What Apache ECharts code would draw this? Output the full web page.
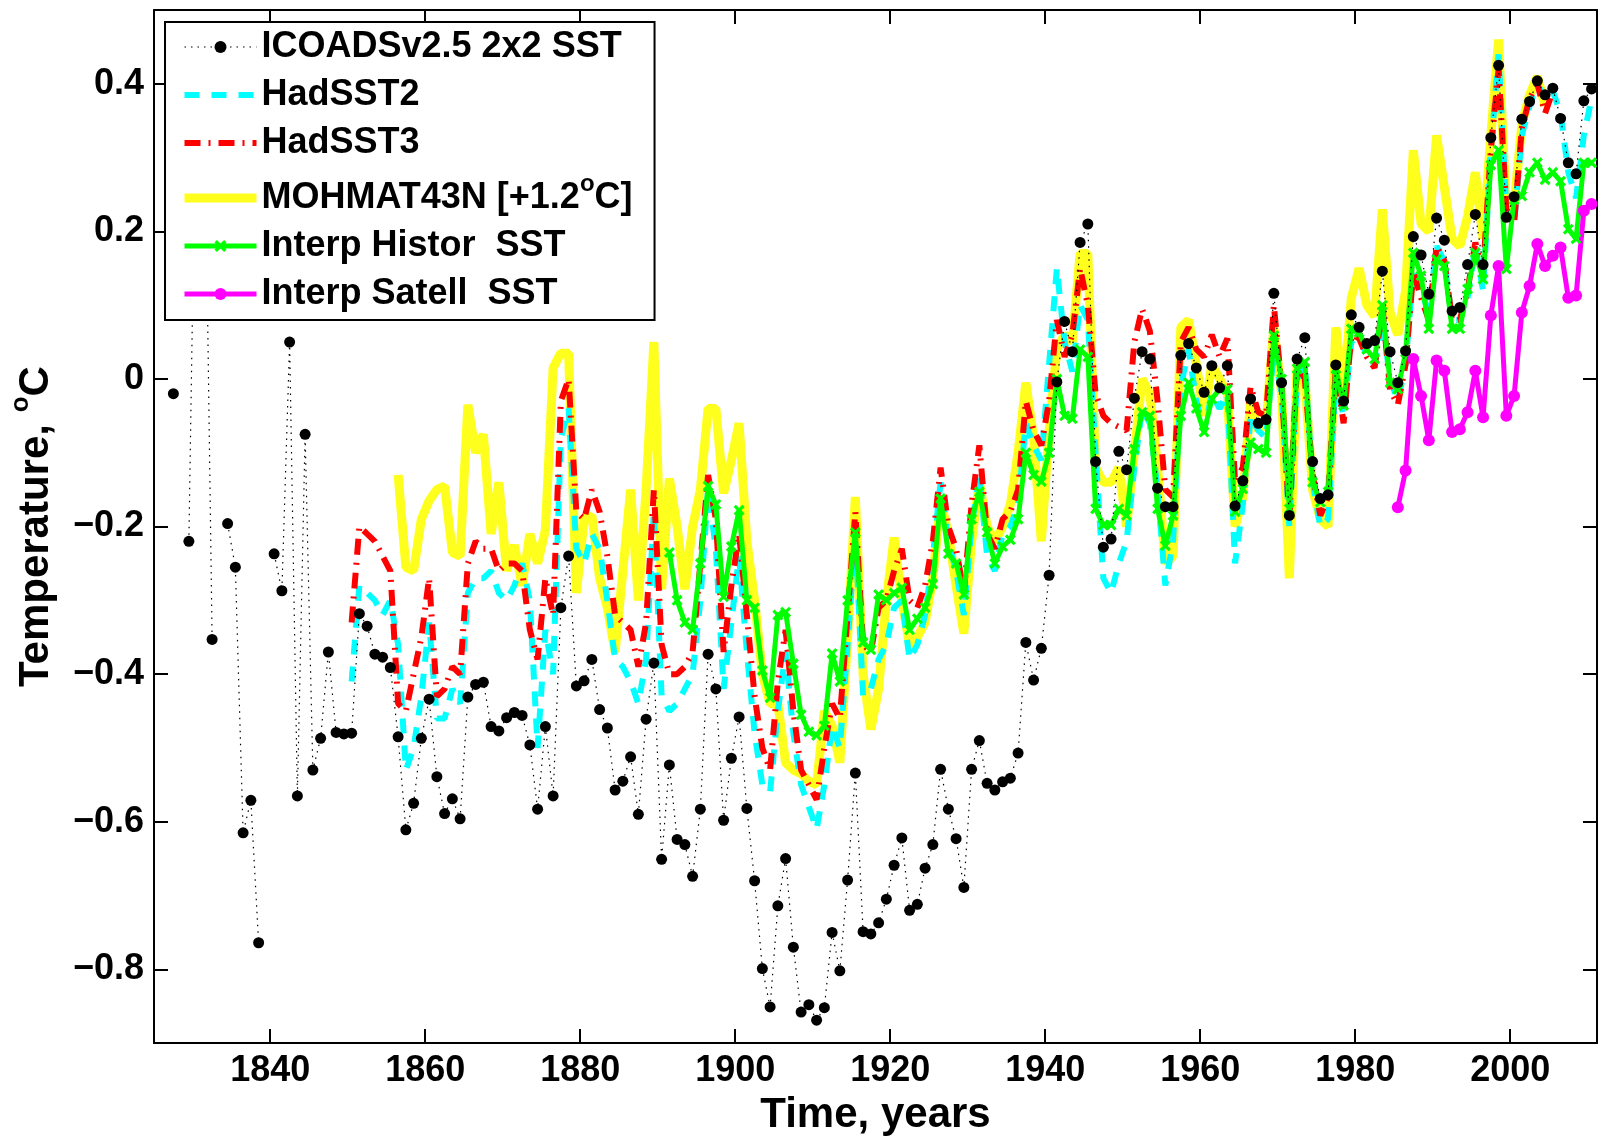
<!DOCTYPE html>
<html>
<head>
<meta charset="utf-8">
<script src="https://cdn.jsdelivr.net/npm/echarts@6.0.0/dist/echarts.min.js"></script>
<style>
html, body { margin: 0; padding: 0; background: #fff; }
#main { width: 1607px; height: 1141px; }
</style>
</head>
<body>
<div id="main"></div>
<script>
// tick positions
const yearTicks = [1840, 1860, 1880, 1900, 1920, 1940, 1960, 1980, 2000];
const tempTicks = [-0.8, -0.6, -0.4, -0.2, 0, 0.2, 0.4];

// ICOADSv2.5 2x2 SST, annual means from 1827 (null = no data)
const icoadsStart = 1827;
const icoads = [
  -0.02, null, -0.22,
  0.45, 0.40, -0.353, null, -0.196, -0.255, -0.615, -0.571, -0.764, null,
  -0.237, -0.287, 0.05, -0.565, -0.075, -0.53, -0.487, -0.37, -0.479, -0.481,
  -0.48, -0.318, -0.335, -0.373, -0.377, -0.391, -0.485, -0.611, -0.575, -0.487,
  -0.434, -0.539, -0.589, -0.569, -0.596, -0.431, -0.414, -0.411, -0.471, -0.477,
  -0.459, -0.452, -0.456, -0.496, -0.583, -0.471, -0.565, -0.31, -0.24, -0.416,
  -0.409, -0.38, -0.448, -0.473, -0.557, -0.545, -0.512, -0.59, -0.461, -0.385,
  -0.651, -0.523, -0.624, -0.631, -0.674, -0.583, -0.373, -0.42, -0.598, -0.514,
  -0.458, -0.582, -0.68, -0.799, -0.851, -0.714, -0.65, -0.77, -0.858, -0.848,
  -0.869, -0.852, -0.75, -0.802, -0.679, -0.534, -0.749, -0.752, -0.737, -0.705,
  -0.659, -0.622, -0.72, -0.712, -0.663, -0.631, -0.529, -0.583, -0.623, -0.689,
  -0.529, -0.49, -0.548, -0.557, -0.546, -0.541, -0.507, -0.357, -0.408, -0.365,
  -0.266, -0.004, 0.078, 0.037, 0.185, 0.21, -0.112, -0.228, -0.217, -0.098,
  -0.123, -0.026, 0.037, 0.027, -0.148, -0.173, -0.173, 0.032, 0.048, 0.015,
  -0.018, 0.018, -0.012, 0.018, -0.172, -0.138, -0.027, -0.06, -0.055, 0.116,
  -0.005, -0.185, 0.027, 0.056, -0.112, -0.162, -0.157, 0.019, -0.03, 0.087,
  0.07, 0.048, 0.052, 0.146, 0.037, -0.005, 0.038, 0.193, 0.168, 0.115,
  0.218, 0.188, 0.092, 0.097, 0.155, 0.223, 0.155, 0.327, 0.425, 0.219,
  0.247, 0.352, 0.376, 0.404, 0.385, 0.394, 0.353, 0.293, 0.278, 0.377,
  0.393
];

// HadSST2 from 1850
const hadsst2Start = 1850;
const hadsst2 = [
  -0.41, -0.28, -0.29, -0.30, -0.32, -0.30, -0.36, -0.53, -0.50, -0.43,
  -0.33, -0.46, -0.46, -0.42, -0.44, -0.29, -0.27, -0.27, -0.26, -0.29,
  -0.30, -0.28, -0.25, -0.30, -0.50, -0.34, -0.40, -0.08, -0.04, -0.23,
  -0.25, -0.21, -0.23, -0.30, -0.38, -0.39, -0.41, -0.44, -0.38, -0.18,
  -0.43, -0.45, -0.44, -0.42, -0.40, -0.30, -0.15, -0.23, -0.42, -0.33,
  -0.24, -0.37, -0.48, -0.55, -0.56, -0.45, -0.37, -0.48, -0.55, -0.58,
  -0.61, -0.55, -0.47, -0.50, -0.36, -0.21, -0.43, -0.42, -0.38, -0.36,
  -0.31, -0.30, -0.38, -0.36, -0.32, -0.24, -0.14, -0.22, -0.26, -0.32,
  -0.20, -0.13, -0.24, -0.26, -0.21, -0.20, -0.17, -0.06, -0.09, -0.11,
  0.02, 0.15, 0.05, 0.01, 0.10, 0.08, -0.10, -0.27, -0.29, -0.25,
  -0.22, -0.12, -0.04, -0.06, -0.15, -0.28, -0.22, -0.01, 0.04, -0.03,
  -0.07, -0.02, -0.04, -0.02, -0.25, -0.17, -0.05, -0.07, -0.08, 0.04,
  -0.02, -0.20, 0.00, 0.02, -0.14, -0.20, -0.19, 0.00, -0.05, 0.05,
  0.06, 0.03, 0.02, 0.08, 0.00, -0.03, 0.02, 0.15, 0.12, 0.09,
  0.18, 0.16, 0.08, 0.08, 0.11, 0.18, 0.12, 0.31, 0.44, 0.23,
  0.21, 0.33, 0.37, 0.40, 0.38, 0.39, 0.36, 0.28, 0.245, 0.33,
  0.38
];

// HadSST3 from 1850
const hadsst3Start = 1850;
const hadsst3 = [
  -0.33, -0.20, -0.21, -0.22, -0.24, -0.26, -0.44, -0.45, -0.40, -0.35,
  -0.27, -0.43, -0.42, -0.39, -0.40, -0.25, -0.22, -0.23, -0.23, -0.26,
  -0.25, -0.25, -0.26, -0.34, -0.38, -0.27, -0.32, -0.03, 0.00, -0.18,
  -0.19, -0.15, -0.18, -0.24, -0.32, -0.33, -0.34, -0.39, -0.33, -0.15,
  -0.36, -0.40, -0.40, -0.39, -0.37, -0.25, -0.13, -0.19, -0.37, -0.28,
  -0.21, -0.32, -0.43, -0.50, -0.53, -0.41, -0.34, -0.45, -0.53, -0.55,
  -0.57, -0.50, -0.44, -0.46, -0.32, -0.18, -0.36, -0.37, -0.31, -0.30,
  -0.26, -0.23, -0.30, -0.31, -0.28, -0.22, -0.12, -0.20, -0.23, -0.29,
  -0.17, -0.09, -0.21, -0.23, -0.19, -0.18, -0.15, -0.03, -0.07, -0.09,
  -0.03, 0.08, 0.03, 0.06, 0.15, 0.10, -0.02, -0.05, -0.06, -0.065,
  -0.07, 0.05, 0.095, 0.065, -0.03, -0.15, -0.16, 0.05, 0.07, 0.04,
  0.03, 0.06, 0.03, 0.055, -0.14, -0.12, -0.01, -0.045, -0.05, 0.10,
  -0.01, -0.19, 0.02, 0.00, -0.13, -0.185, -0.16, 0.015, -0.06, 0.06,
  0.055, 0.03, 0.015, 0.10, -0.015, -0.035, 0.02, 0.145, 0.11, 0.08,
  0.18, 0.16, 0.08, 0.08, 0.12, 0.185, 0.145, 0.31, 0.42, 0.23,
  0.21, 0.34, 0.38, 0.40, 0.36, 0.39
];

// MOHMAT43N (+1.2 C) from 1856
const mohmatStart = 1856;
const mohmat = [
  -0.13, -0.255, -0.26, -0.19,
  -0.165, -0.15, -0.145, -0.235, -0.24, -0.035, -0.10, -0.075, -0.21, -0.14,
  -0.26, -0.225, -0.28, -0.21, -0.25, -0.205, 0.015, 0.035, 0.035, -0.29,
  -0.19, -0.185, -0.27, -0.31, -0.37, -0.26, -0.15, -0.30, -0.15, 0.05,
  -0.285, -0.135, -0.20, -0.285, -0.20, -0.15, -0.04, -0.04, -0.155, -0.11,
  -0.06, -0.22, -0.30, -0.40, -0.44, -0.44, -0.52, -0.53, -0.535, -0.545,
  -0.55, -0.45, -0.47, -0.52, -0.35, -0.16, -0.40, -0.475, -0.42, -0.30,
  -0.215, -0.30, -0.36, -0.35, -0.33, -0.27, -0.165, -0.21, -0.28, -0.345,
  -0.22, -0.14, -0.20, -0.22, -0.20, -0.17, -0.10, -0.005, -0.08, -0.22,
  -0.07, 0.04, 0.06, 0.05, 0.17, 0.17, -0.12, -0.14, -0.14, -0.12,
  -0.20, -0.10, 0.00, -0.02, -0.12, -0.25, -0.24, 0.07, 0.08, 0.02,
  -0.05, 0.02, 0.00, -0.02, -0.20, -0.16, -0.03, -0.07, -0.06, 0.07,
  -0.02, -0.27, 0.02, 0.00, -0.15, -0.19, -0.20, 0.07, -0.02, 0.11,
  0.15, 0.10, 0.085, 0.23, 0.09, 0.06, 0.12, 0.31, 0.21, 0.20,
  0.33, 0.26, 0.19, 0.18, 0.22, 0.28, 0.19, 0.33, 0.46, 0.225,
  0.235, 0.345, 0.385, 0.41, 0.37
];

// Interp Histor SST from 1891
const histStart = 1891;
const hist = [
  -0.235, -0.30, -0.33, -0.34, -0.25, -0.145, -0.17, -0.295, -0.227,
  -0.178, -0.30, -0.31, -0.395, -0.432, -0.32, -0.316, -0.386, -0.455, -0.478,
  -0.483, -0.47, -0.372, -0.41, -0.30, -0.208, -0.357, -0.367, -0.292, -0.30,
  -0.29, -0.283, -0.34, -0.325, -0.31, -0.278, -0.162, -0.237, -0.25, -0.292,
  -0.19, -0.153, -0.208, -0.25, -0.227, -0.218, -0.19, -0.10, -0.13, -0.139,
  -0.10, 0.00, -0.05, -0.054, 0.04, 0.03, -0.176, -0.198, -0.198, -0.176,
  -0.185, -0.095, -0.045, -0.05, -0.176, -0.226, -0.185, -0.05, -0.005, -0.04,
  -0.072, -0.027, -0.014, -0.014, -0.18, -0.149, -0.086, -0.095, -0.10, 0.059,
  0.0, -0.176, 0.014, 0.023, -0.14, -0.167, -0.153, 0.014, -0.036, 0.068,
  0.063, 0.04, 0.027, 0.10, -0.005, -0.014, 0.036, 0.171, 0.14, 0.068,
  0.162, 0.153, 0.068, 0.068, 0.122, 0.171, 0.135, 0.29, 0.31, 0.149,
  0.243, 0.248, 0.28, 0.293, 0.27, 0.28, 0.268, 0.203, 0.19, 0.293,
  0.293
];

// Interp Satell SST from 1985
const satStart = 1985;
const sat = [
  -0.174, -0.124, 0.027, -0.023, -0.083, 0.025, 0.011, -0.072, -0.068, -0.045,
  0.011, -0.052, 0.086, 0.153, -0.05, -0.023, 0.09, 0.126, 0.183, 0.153,
  0.167, 0.178, 0.11, 0.113, 0.228, 0.237
];

// annual values are plotted at mid-year
function pairs(start, values) {
  return values.map((v, i) => [start + i + 0.5, v === null ? '-' : v]);
}

const font = 'Liberation Sans, Arial, Helvetica, sans-serif';
const black = '#000';
const yellow = '#ffff1e';
const crossMark = 'path://M2,0 L5,3 L8,0 L10,2 L7,5 L10,8 L8,10 L5,7 L2,10 L0,8 L3,5 L0,2 Z';

const tickStyle = { show: true, inside: true, length: 14, lineStyle: { color: black, width: 2 } };
const frameLine = { show: true, onZero: false, lineStyle: { color: black, width: 2 } };

const myEcharts = echarts.init(document.getElementById('main'));

const option = {
  animation: false,
  backgroundColor: '#fff',
  grid: { left: 153, right: 10, top: 10, bottom: 94 },
  legend: {
    data: [
      { name: 'ICOADSv2.5 2x2 SST', lineStyle: { width: 1.2 } },
      { name: 'HadSST2', itemStyle: { opacity: 0 }, lineStyle: { width: 6 } },
      { name: 'HadSST3', itemStyle: { opacity: 0 }, lineStyle: { width: 6 } },
      { name: 'MOHMAT43N', itemStyle: { opacity: 0 }, lineStyle: { width: 9 } },
      { name: 'Interp Histor  SST', lineStyle: { width: 5 } },
      { name: 'Interp Satell  SST', lineStyle: { width: 5 } }
    ],
    orient: 'vertical',
    left: 165,
    top: 22,
    padding: [6, 22, 7, 15],
    itemWidth: 72,
    itemHeight: 15,
    itemGap: 10,
    selectedMode: false,
    backgroundColor: '#fff',
    borderColor: black,
    borderWidth: 2,
    borderRadius: 0,
    formatter: function (name) {
      return name === 'MOHMAT43N' ? 'MOHMAT43N [+1.2{sup|o}C]' : name;
    },
    textStyle: {
      fontFamily: font, fontSize: 36, fontWeight: 'bold', color: black, lineHeight: 38,
      rich: { sup: { fontFamily: font, fontSize: 24, fontWeight: 'bold', color: black, padding: [0, 0, 28, 0] } }
    }
  },
  xAxis: [
    {
      type: 'value', min: 1825, max: 2011.2, position: 'bottom',
      axisLine: frameLine,
      axisTick: Object.assign({ customValues: yearTicks }, tickStyle),
      axisLabel: {
        customValues: yearTicks, fontFamily: font, fontSize: 36, fontWeight: 'bold', color: black, margin: 10,
        formatter: function (v) { return String(Math.round(v)); }
      },
      splitLine: { show: false },
      name: 'Time, years', nameLocation: 'middle', nameGap: 44,
      nameTextStyle: { fontFamily: font, fontSize: 42, fontWeight: 'bold', color: black }
    },
    {
      type: 'value', min: 1825, max: 2011.2, position: 'top',
      axisLine: frameLine,
      axisTick: Object.assign({ customValues: yearTicks }, tickStyle),
      axisLabel: { show: false },
      splitLine: { show: false }
    }
  ],
  yAxis: [
    {
      type: 'value', min: -0.9, max: 0.5, position: 'left',
      axisLine: frameLine,
      axisTick: Object.assign({ customValues: tempTicks }, tickStyle),
      axisLabel: {
        customValues: tempTicks, fontFamily: font, fontSize: 36, fontWeight: 'bold', color: black, margin: 10,
        formatter: function (v) {
          if (Math.abs(v) < 1e-9) return '0';
          return (v < 0 ? '\u2212' : '') + Math.abs(v).toFixed(1);
        }
      },
      splitLine: { show: false },
      name: 'Temperature, {sup|o}C', nameLocation: 'middle', nameGap: 90,
      nameTextStyle: {
        fontFamily: font, fontSize: 42, fontWeight: 'bold', color: black,
        rich: { sup: { fontFamily: font, fontSize: 26, fontWeight: 'bold', color: black, padding: [0, 0, 30, 0] } }
      }
    },
    {
      type: 'value', min: -0.9, max: 0.5, position: 'right',
      axisLine: frameLine,
      axisTick: Object.assign({ customValues: tempTicks }, tickStyle),
      axisLabel: { show: false },
      splitLine: { show: false }
    }
  ],
  series: [
    {
      name: 'MOHMAT43N', type: 'line', data: pairs(mohmatStart, mohmat),
      showSymbol: false, symbol: 'none',
      lineStyle: { color: yellow, width: 9 }, itemStyle: { color: yellow }
    },
    {
      name: 'HadSST2', type: 'line', data: pairs(hadsst2Start, hadsst2),
      showSymbol: false, symbol: 'none',
      lineStyle: { color: '#00ffff', width: 6, type: [15, 12] }, itemStyle: { color: '#00ffff' }
    },
    {
      name: 'HadSST3', type: 'line', data: pairs(hadsst3Start, hadsst3),
      showSymbol: false, symbol: 'none',
      lineStyle: { color: '#ff0000', width: 6, type: [16, 8, 2, 8] }, itemStyle: { color: '#ff0000' }
    },
    {
      name: 'Interp Histor  SST', type: 'line', data: pairs(histStart, hist),
      symbol: crossMark, symbolSize: 11, showSymbol: true,
      lineStyle: { color: '#00ff00', width: 5 }, itemStyle: { color: '#00ff00' }
    },
    {
      name: 'Interp Satell  SST', type: 'line', data: pairs(satStart, sat),
      symbol: 'circle', symbolSize: 12, showSymbol: true,
      lineStyle: { color: '#ff00ff', width: 5 }, itemStyle: { color: '#ff00ff' }
    },
    {
      name: 'ICOADSv2.5 2x2 SST', type: 'line', data: pairs(icoadsStart, icoads),
      symbol: 'circle', symbolSize: 11, showSymbol: true, connectNulls: false,
      lineStyle: { color: black, width: 1.2, type: [1.5, 5] }, itemStyle: { color: black }
    }
  ]
};

myEcharts.setOption(option);
</script>
</body>
</html>
